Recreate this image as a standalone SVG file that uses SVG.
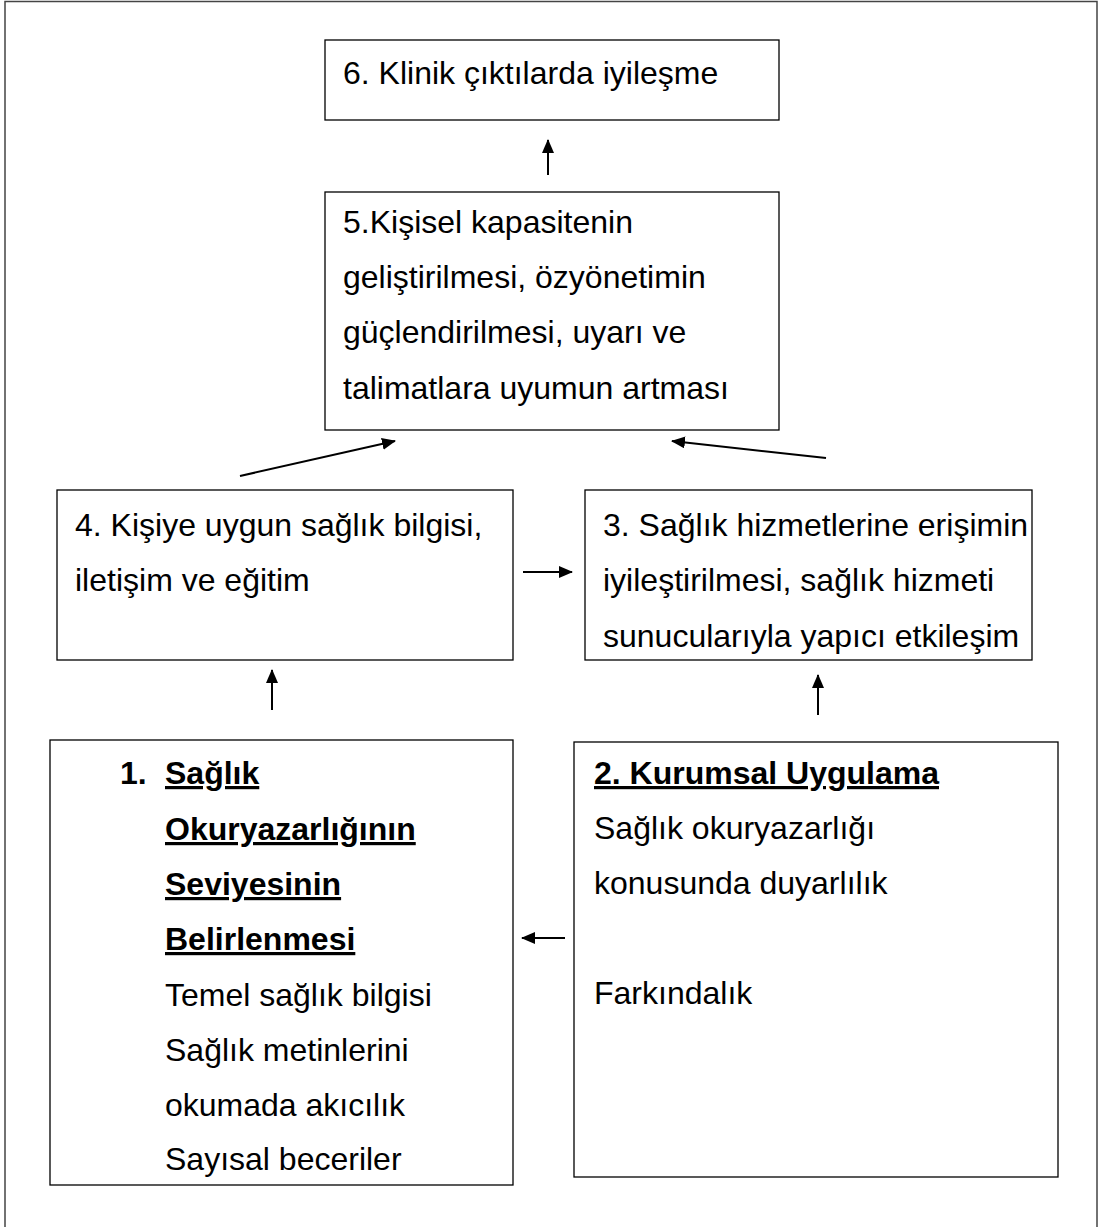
<svg xmlns="http://www.w3.org/2000/svg" width="1099" height="1227" viewBox="0 0 1099 1227">
<defs>
<style>
.box{fill:#fff;stroke:#000;stroke-width:1.3}
.t{font-family:"Liberation Sans",Arial,sans-serif;font-size:32px;fill:#000}
.b{font-weight:bold;text-decoration:underline}
.c{stroke:#000;stroke-width:2;fill:none;marker-end:url(#ah)}
</style>
<marker id="ah" viewBox="0 0 14 12" refX="13" refY="6" markerWidth="14" markerHeight="12" markerUnits="userSpaceOnUse" orient="auto">
<path d="M0,0 L14,6 L0,12 z" fill="#000"/>
</marker>
</defs>
<rect width="1099" height="1227" fill="#fff"/>
<path d="M5,1227 V1.5 H1097 V1227" fill="none" stroke="#444" stroke-width="1.5"/>
<g id="n6">
<rect class="box" x="325" y="40" width="454" height="80"/>
<text class="t" x="343" y="84">6. Klinik çıktılarda iyileşme</text>
</g>
<g id="n5">
<rect class="box" x="325" y="192" width="454" height="238"/>
<text class="t" x="343" y="233">5.Kişisel kapasitenin</text>
<text class="t" x="343" y="288">geliştirilmesi, özyönetimin</text>
<text class="t" x="343" y="343">güçlendirilmesi, uyarı ve</text>
<text class="t" x="343" y="399">talimatlara uyumun artması</text>
</g>
<g id="n4">
<rect class="box" x="57" y="490" width="456" height="170"/>
<text class="t" x="75" y="536">4. Kişiye uygun sağlık bilgisi,</text>
<text class="t" x="75" y="591">iletişim ve eğitim</text>
</g>
<g id="n3">
<rect class="box" x="585" y="490" width="447" height="170"/>
<text class="t" x="603" y="536">3. Sağlık hizmetlerine erişimin</text>
<text class="t" x="603" y="591">iyileştirilmesi, sağlık hizmeti</text>
<text class="t" x="603" y="647">sunucularıyla yapıcı etkileşim</text>
</g>
<g id="n1">
<rect class="box" x="50" y="740" width="463" height="445"/>
<text class="t" font-weight="bold" x="120" y="784">1.</text>
<text class="t b" x="165" y="784">Sağlık</text>
<text class="t b" x="165" y="840">Okuryazarlığının</text>
<text class="t b" x="165" y="895">Seviyesinin</text>
<text class="t b" x="165" y="950">Belirlenmesi</text>
<text class="t" x="165" y="1006">Temel sağlık bilgisi</text>
<text class="t" x="165" y="1061">Sağlık metinlerini</text>
<text class="t" x="165" y="1116">okumada akıcılık</text>
<text class="t" x="165" y="1170">Sayısal beceriler</text>
</g>
<g id="n2">
<rect class="box" x="574" y="742" width="484" height="435"/>
<text class="t b" x="594" y="784">2. Kurumsal Uygulama</text>
<text class="t" x="594" y="839">Sağlık okuryazarlığı</text>
<text class="t" x="594" y="894">konusunda duyarlılık</text>
<text class="t" x="594" y="1004">Farkındalık</text>
</g>
<g id="connectors">
<line class="c" x1="548" y1="175" x2="548" y2="140"/>
<line class="c" x1="240" y1="476" x2="395" y2="441"/>
<line class="c" x1="826" y1="458" x2="672" y2="441"/>
<line class="c" x1="523" y1="572" x2="572" y2="572"/>
<line class="c" x1="272" y1="710" x2="272" y2="670"/>
<line class="c" x1="818" y1="715" x2="818" y2="675"/>
<line class="c" x1="565" y1="938" x2="522" y2="938"/>
</g>
</svg>
